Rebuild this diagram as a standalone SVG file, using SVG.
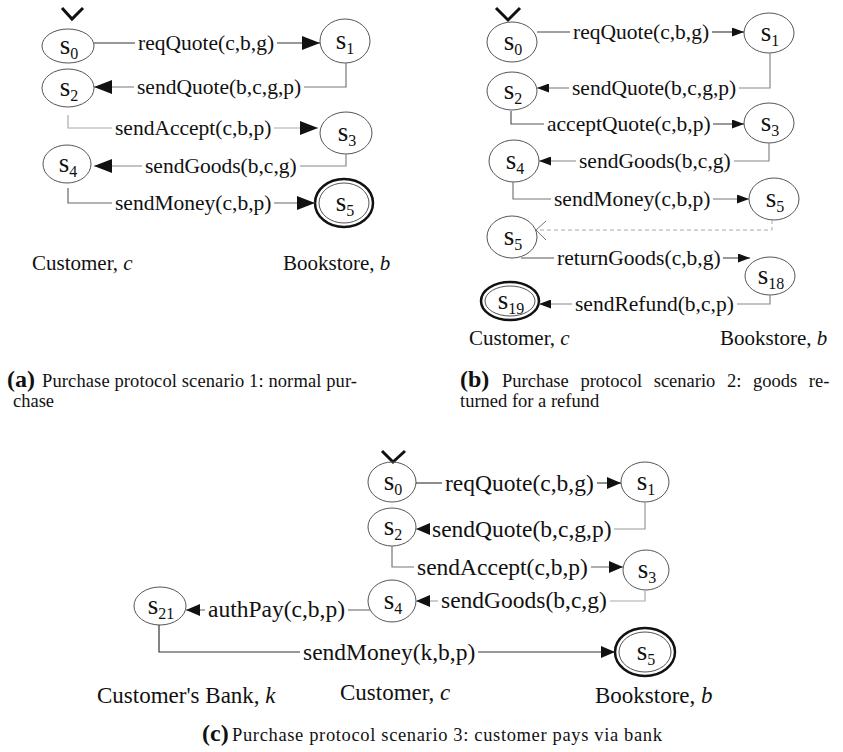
<svg xmlns="http://www.w3.org/2000/svg" width="843" height="752" viewBox="0 0 843 752">
<style>
text{font-family:"Liberation Serif","Times New Roman",serif;fill:#111}
.n{font-size:27px}
.sub{font-size:16px}
.la{font-size:21.5px}
.lc{font-size:23.5px}
.st{fill:none;stroke:#555;stroke-width:1}
.fin{fill:none;stroke:#111;stroke-width:2.5}
.chk{fill:none;stroke:#111;stroke-width:3}
.c{fill:none;stroke-width:1.2}
.cap{font-size:18.5px}
.capb{font-size:24px;font-weight:bold}
</style>
<defs>
<marker id="aL" markerUnits="userSpaceOnUse" markerWidth="18" markerHeight="14" refX="18" refY="7" orient="auto"><path d="M0,0 L18,7 L0,14 z" fill="#111"/></marker>
<marker id="aM" markerUnits="userSpaceOnUse" markerWidth="14" markerHeight="12" refX="14" refY="6" orient="auto"><path d="M0,0 L14,6 L0,12 z" fill="#111"/></marker>
<marker id="aS" markerUnits="userSpaceOnUse" markerWidth="12" markerHeight="9" refX="12" refY="4.5" orient="auto"><path d="M0,0 L12,4.5 L0,9 z" fill="#111"/></marker>
</defs>
<rect width="843" height="752" fill="#fff"/>

<!-- Panel a nodes -->
<g id="a_s0"><polyline class="chk" points="62,8 72,19 83,8"/><ellipse class="st" cx="68" cy="46" rx="26" ry="17"/><text class="n" x="69" y="54" text-anchor="middle">s<tspan class="sub" dy="5">0</tspan></text></g>
<g id="a_s1"><ellipse class="st" cx="345" cy="41" rx="25" ry="22"/><text class="n" x="345" y="49" text-anchor="middle">s<tspan class="sub" dy="5">1</tspan></text></g>
<g id="a_s2"><ellipse class="st" cx="68" cy="88" rx="26" ry="19"/><text class="n" x="69" y="96" text-anchor="middle">s<tspan class="sub" dy="5">2</tspan></text></g>
<g id="a_s3"><ellipse class="st" cx="346" cy="133" rx="26" ry="21"/><text class="n" x="347" y="141" text-anchor="middle">s<tspan class="sub" dy="5">3</tspan></text></g>
<g id="a_s4"><ellipse class="st" cx="67" cy="164" rx="24" ry="19"/><text class="n" x="68" y="172" text-anchor="middle">s<tspan class="sub" dy="5">4</tspan></text></g>
<g id="a_s5"><ellipse class="fin" cx="344" cy="203" rx="29" ry="24"/><ellipse class="st" cx="344" cy="203" rx="25" ry="20"/><text class="n" x="345" y="211" text-anchor="middle">s<tspan class="sub" dy="5">5</tspan></text></g>

<!-- Panel b nodes -->
<g id="b_s0"><polyline class="chk" points="496,8 508,20 520,8"/><ellipse class="st" cx="512" cy="42" rx="25" ry="20"/><text class="n" x="513" y="50" text-anchor="middle">s<tspan class="sub" dy="5">0</tspan></text></g>
<g id="b_s1"><ellipse class="st" cx="769" cy="33" rx="25" ry="20"/><text class="n" x="770" y="41" text-anchor="middle">s<tspan class="sub" dy="5">1</tspan></text></g>
<g id="b_s2"><ellipse class="st" cx="512" cy="91" rx="25" ry="19"/><text class="n" x="513" y="99" text-anchor="middle">s<tspan class="sub" dy="5">2</tspan></text></g>
<g id="b_s3"><ellipse class="st" cx="769" cy="123" rx="25" ry="20"/><text class="n" x="770" y="131" text-anchor="middle">s<tspan class="sub" dy="5">3</tspan></text></g>
<g id="b_s4"><ellipse class="st" cx="514" cy="161" rx="25" ry="21"/><text class="n" x="515" y="169" text-anchor="middle">s<tspan class="sub" dy="5">4</tspan></text></g>
<g id="b_s5r"><ellipse class="st" cx="774" cy="199" rx="25" ry="21"/><text class="n" x="775" y="207" text-anchor="middle">s<tspan class="sub" dy="5">5</tspan></text></g>
<g id="b_s5l"><ellipse class="st" cx="512" cy="237" rx="25" ry="21"/><text class="n" x="513" y="245" text-anchor="middle">s<tspan class="sub" dy="5">5</tspan></text></g>
<g id="b_s18"><ellipse class="st" cx="770" cy="276" rx="25" ry="19"/><text class="n" x="771" y="284" text-anchor="middle">s<tspan class="sub" dy="5">18</tspan></text></g>
<g id="b_s19"><ellipse class="fin" cx="510" cy="301" rx="29" ry="19"/><ellipse class="st" cx="510" cy="301" rx="25" ry="15"/><text class="n" x="511" y="309" text-anchor="middle">s<tspan class="sub" dy="5">19</tspan></text></g>

<!-- Panel c nodes -->
<g id="c_s0"><polyline class="chk" points="382,451 393,462 405,451"/><ellipse class="st" cx="392" cy="482" rx="24" ry="20"/><text class="n" x="393" y="490" text-anchor="middle">s<tspan class="sub" dy="5">0</tspan></text></g>
<g id="c_s1"><ellipse class="st" cx="645" cy="482" rx="24" ry="20"/><text class="n" x="646" y="490" text-anchor="middle">s<tspan class="sub" dy="5">1</tspan></text></g>
<g id="c_s2"><ellipse class="st" cx="392" cy="527" rx="24" ry="19"/><text class="n" x="393" y="535" text-anchor="middle">s<tspan class="sub" dy="5">2</tspan></text></g>
<g id="c_s3"><ellipse class="st" cx="646" cy="570" rx="23" ry="20"/><text class="n" x="647" y="578" text-anchor="middle">s<tspan class="sub" dy="5">3</tspan></text></g>
<g id="c_s4"><ellipse class="st" cx="392" cy="601" rx="24" ry="21"/><text class="n" x="393" y="609" text-anchor="middle">s<tspan class="sub" dy="5">4</tspan></text></g>
<g id="c_s21"><ellipse class="st" cx="160" cy="606" rx="26" ry="19"/><text class="n" x="161" y="614" text-anchor="middle">s<tspan class="sub" dy="5">21</tspan></text></g>
<g id="c_s5"><ellipse class="fin" cx="645" cy="652" rx="30" ry="24"/><ellipse class="st" cx="645" cy="652" rx="26" ry="20"/><text class="n" x="646" y="660" text-anchor="middle">s<tspan class="sub" dy="5">5</tspan></text></g>

<!-- Connectors -->
<g id="connectors">
<!-- panel a -->
<path class="c" stroke="#333" d="M94,43 H135"/><path class="c" stroke="#333" d="M277,43 H320" marker-end="url(#aL)"/>
<text class="la" x="138" y="50">reqQuote(c,b,g)</text>
<path class="c" stroke="#777" d="M346,63 V87 H304"/><path class="c" stroke="#777" d="M134,87 H94" marker-end="url(#aL)"/>
<text class="la" x="137" y="94">sendQuote(b,c,g,p)</text>
<path class="c" stroke="#aaa" d="M68,115 V128 H112"/><path class="c" stroke="#aaa" d="M274,128 H318" marker-end="url(#aL)"/>
<text class="la" x="115" y="135">sendAccept(c,b,p)</text>
<path class="c" stroke="#888" d="M346,154 V166 H300"/><path class="c" stroke="#888" d="M142,166 H94" marker-end="url(#aL)"/>
<text class="la" x="145" y="173">sendGoods(b,c,g)</text>
<path class="c" stroke="#666" d="M68,188 V203 H112"/><path class="c" stroke="#666" d="M274,203 H315" marker-end="url(#aL)"/>
<text class="la" x="115" y="210">sendMoney(c,b,p)</text>
<!-- panel b -->
<path class="c" stroke="#444" d="M537,32 H570"/><path class="c" stroke="#444" d="M712,32 H744" marker-end="url(#aS)"/>
<text class="la" x="573" y="39">reqQuote(c,b,g)</text>
<path class="c" stroke="#888" d="M770,53 V88 H739"/><path class="c" stroke="#888" d="M569,88 H537" marker-end="url(#aS)"/>
<text class="la" x="572" y="95">sendQuote(b,c,g,p)</text>
<path class="c" stroke="#555" d="M511,111 V124 H544"/><path class="c" stroke="#555" d="M713,124 H744" marker-end="url(#aS)"/>
<text class="la" x="547" y="131">acceptQuote(c,b,p)</text>
<path class="c" stroke="#888" d="M769,143 V161 H734"/><path class="c" stroke="#888" d="M576,161 H539" marker-end="url(#aS)"/>
<text class="la" x="579" y="168">sendGoods(b,c,g)</text>
<path class="c" stroke="#777" d="M513,182 V199 H551"/><path class="c" stroke="#777" d="M713,199 H749" marker-end="url(#aS)"/>
<text class="la" x="554" y="206">sendMoney(c,b,p)</text>
<path fill="none" stroke="#aaa" stroke-width="1" stroke-dasharray="4,3" d="M772,220 V230 H536"/>
<path fill="none" stroke="#777" stroke-width="1" d="M546,221 L536,230 L546,240"/>
<path class="c" stroke="#555" d="M521,258 H554"/><path class="c" stroke="#555" d="M723,258 H750" marker-end="url(#aS)"/>
<text class="la" x="557" y="265">returnGoods(c,b,g)</text>
<path class="c" stroke="#888" d="M770,295 V304 H737"/><path class="c" stroke="#888" d="M572,304 H539" marker-end="url(#aS)"/>
<text class="la" x="575" y="311">sendRefund(b,c,p)</text>
<!-- panel c -->
<path class="c" stroke="#444" d="M416,483 H442"/><path class="c" stroke="#444" d="M597,483 H621" marker-end="url(#aM)"/>
<text class="lc" x="445" y="491">reqQuote(c,b,g)</text>
<path class="c" stroke="#999" d="M645,502 V529 H614"/><path class="c" stroke="#999" d="M429,529 H416" marker-end="url(#aM)"/>
<text class="lc" x="432" y="537">sendQuote(b,c,g,p)</text>
<path class="c" stroke="#777" d="M392,546 V567 H414"/><path class="c" stroke="#777" d="M591,567 H623" marker-end="url(#aM)"/>
<text class="lc" x="417" y="575">sendAccept(c,b,p)</text>
<path class="c" stroke="#aaa" d="M645,590 V601 H610"/><path class="c" stroke="#aaa" d="M438,601 H416" marker-end="url(#aM)"/>
<text class="lc" x="441" y="608">sendGoods(b,c,g)</text>
<path class="c" stroke="#777" d="M370,610 H348"/><path class="c" stroke="#777" d="M205,610 H186" marker-end="url(#aM)"/>
<text class="lc" x="208" y="617">authPay(c,b,p)</text>
<path class="c" stroke="#333" d="M159,625 V652 H300"/><path class="c" stroke="#333" d="M478,652 H615" marker-end="url(#aM)"/>
<text class="lc" x="303" y="660">sendMoney(k,b,p)</text>
</g>

<!-- Role labels and captions -->
<g id="labels">
<text x="32" y="270" font-size="21">Customer, <tspan font-style="italic">c</tspan></text>
<text x="283" y="270" font-size="21">Bookstore, <tspan font-style="italic">b</tspan></text>
<text x="469" y="345" font-size="21">Customer, <tspan font-style="italic">c</tspan></text>
<text x="720" y="345" font-size="21">Bookstore, <tspan font-style="italic">b</tspan></text>
<text x="97" y="703" font-size="23">Customer's Bank, <tspan font-style="italic">k</tspan></text>
<text x="340" y="700" font-size="23">Customer, <tspan font-style="italic">c</tspan></text>
<text x="595" y="703" font-size="23">Bookstore, <tspan font-style="italic">b</tspan></text>
</g>
<g id="captions">
<text class="capb" x="7" y="387">(a)</text>
<text class="cap" x="42" y="387" textLength="315" lengthAdjust="spacing">Purchase protocol scenario 1: normal pur-</text>
<text class="cap" x="13" y="407">chase</text>
<text class="capb" x="460" y="387">(b)</text>
<text class="cap" x="502" y="387" word-spacing="7">Purchase protocol scenario 2: goods re-</text>
<text class="cap" x="460" y="407">turned for a refund</text>
<text class="capb" x="202" y="741">(c)</text>
<text class="cap" x="232" y="741" textLength="430" lengthAdjust="spacing">Purchase protocol scenario 3: customer pays via bank</text>
</g>
</svg>
